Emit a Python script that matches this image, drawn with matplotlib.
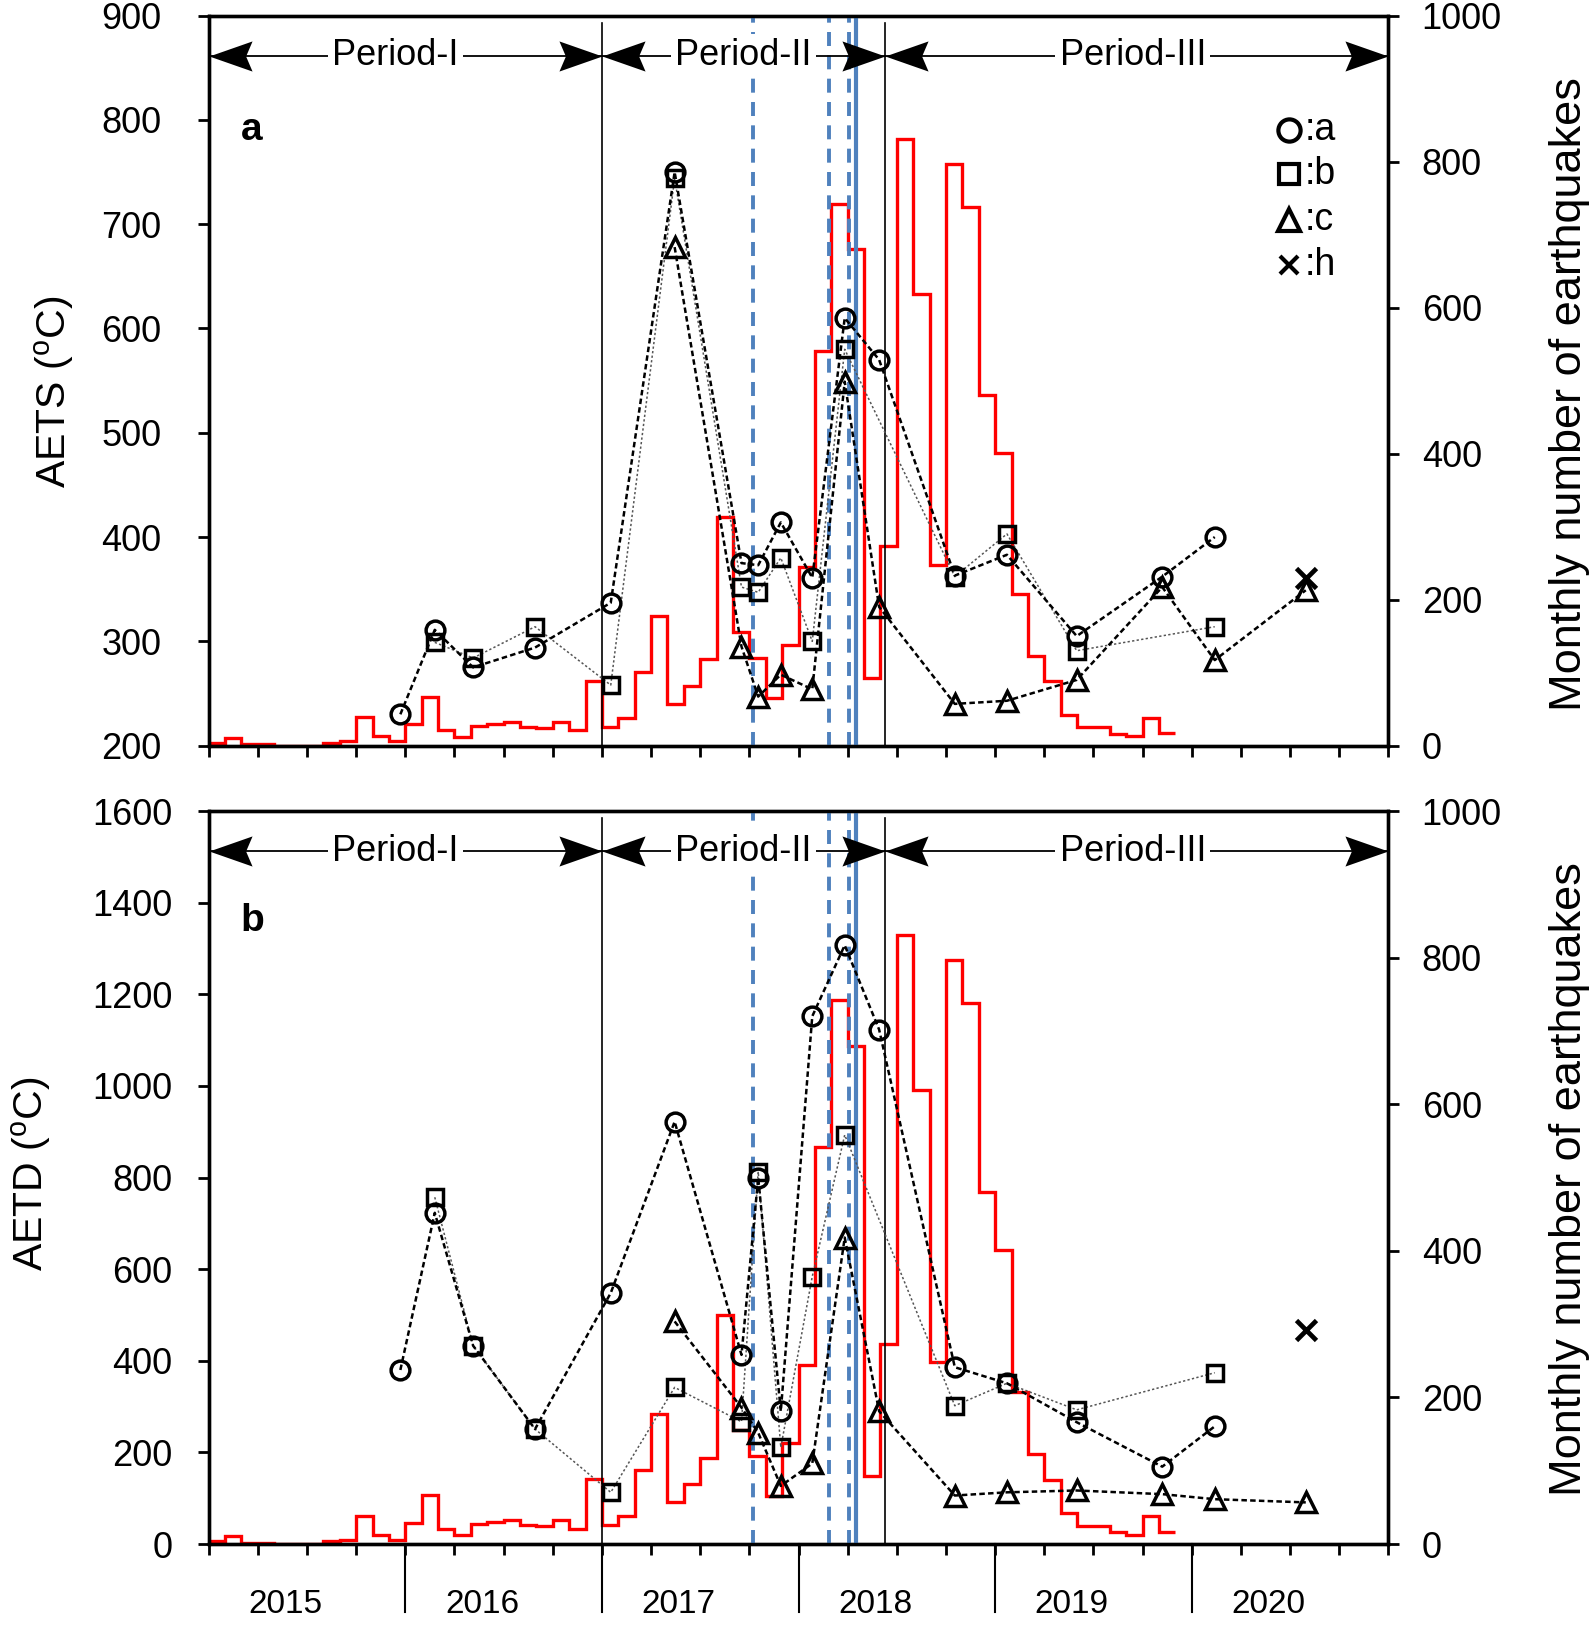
import numpy as np
import matplotlib
matplotlib.use("Agg")
import matplotlib.pyplot as plt
from matplotlib import transforms
from matplotlib.path import Path

plt.rcParams["font.family"] = ["Liberation Sans", "DejaVu Sans"]
plt.rcParams["mathtext.fontset"] = "custom"
plt.rcParams["mathtext.rm"] = "Liberation Sans"

# Sismos mensuales, enero 2015 - noviembre 2019
sismos = [4, 11, 2, 2, 0, 0, 0, 4, 6, 39, 13, 6,
          29, 67, 21, 12, 27, 30, 33, 26, 24, 33, 21, 89,
          26, 38, 101, 177, 57, 82, 118, 313, 155, 120, 65, 138,
          244, 541, 742, 680, 93, 273, 831, 619, 248, 797, 738, 480,
          401, 208, 123, 88, 42, 25, 25, 16, 13, 38, 17]

# Fechas de muestreo (año decimal)
fechas = [2015.975, 2016.15, 2016.345, 2016.66, 2017.045, 2017.37, 2017.71,
          2017.795, 2017.91, 2018.07, 2018.235, 2018.41, 2018.795, 2019.06,
          2019.415, 2019.85, 2020.117, 2020.58]

N = None
# AETS (panel a)
aets_a = [230, 311, 275, 294, 337, 750, 375, 373, 414, 361, 610, 570, 363, 383, 305, 362, 400, N]
aets_b = [N, 299, 284, 314, 258, 744, 352, 347, 380, 300, 580, N, 362, 403, 291, N, 314, N]
aets_c = [N, N, N, N, N, 678, 295, 247, 268, 254, 549, 333, 240, 243, 263, 352, 282, 349]
aets_h = [N] * 17 + [361]

# AETD (panel b)
aetd_a = [380, 723, 433, 251, 548, 922, 413, 800, 290, 1152, 1307, 1123, 386, 351, 266, 169, 257, N]
aetd_b = [N, 757, 433, 251, 113, 342, 267, 813, 211, 584, 893, N, 302, 351, 293, N, 374, N]
aetd_c = [N, N, N, N, N, 486, 298, 243, 127, 176, 669, 290, 106, 113, 117, 109, 98, 91]
aetd_h = [N] * 17 + [468]

periodos = [("Period-I", 2015.0, 2017.0, 2015.95),
            ("Period-II", 2017.0, 2018.44, 2017.72),
            ("Period-III", 2018.44, 2021.0, 2019.70)]
lineas_azules_disc = [2017.77, 2018.155, 2018.255]
linea_azul = 2018.29
anios = [2015, 2016, 2017, 2018, 2019, 2020]

AZUL = "#4F81BD"
FS = 26

# punta de flecha tipo "stealth" (punta en el origen, apuntando a la derecha)
_v = [(0, 0), (-1, 0.35), (-0.85, 0), (-1, -0.35), (0, 0)]
PUNTA_DER = Path(_v, [Path.MOVETO, Path.LINETO, Path.LINETO, Path.LINETO, Path.CLOSEPOLY])
PUNTA_IZQ = Path([(-x, y) for x, y in _v], PUNTA_DER.codes)


def serie(ax, valores, marker, ms, ls, lw, color):
    x = np.array(fechas)
    v = np.array([np.nan if q is None else q for q in valores], dtype=float)
    m = ~np.isnan(v)
    ax.plot(x[m], v[m], linestyle=ls, lw=lw, color=color, marker=marker,
            ms=ms, mfc="none", mec="black", mew=2.5, zorder=5)


def panel(ax, a, b, c, h, ylim, yticks, ylabel, letra, ylab_pos, pad_left, leyenda):
    ax2 = ax.twinx()
    ax.set_zorder(ax2.get_zorder() + 1)
    ax.patch.set_visible(False)

    edges = 2015 + np.arange(len(sismos) + 1) / 12.0
    ax2.stairs(sismos, edges, baseline=None, color="red", lw=2.4)
    ax2.set_ylim(0, 1000)
    ax2.set_yticks(range(0, 1001, 200))
    ax2.tick_params(axis="y", labelsize=FS, length=8, width=2, pad=16, direction="out")
    ax2.set_ylabel("Monthly number of earthquakes", fontsize=32.5)
    ax2.yaxis.set_label_coords(1.136, ylab_pos[1])

    dash = (0, (2.2, 1.3))
    serie(ax, b, "s", 12, (0, (1.5, 1.5)), 1.1, "#555555")
    serie(ax, a, "o", 13.5, dash, 1.8, "black")
    serie(ax, c, "^", 14, dash, 1.8, "black")
    xh = np.array(fechas)
    vh = np.array([np.nan if q is None else q for q in h], dtype=float)
    ax.plot(xh, vh, linestyle="none", marker="x", ms=15, mew=3.4, color="black", zorder=6)

    ax.set_xlim(2015, 2021)
    ax.set_ylim(*ylim)
    ax.set_yticks(yticks)
    ax.set_xticks(np.arange(2015, 2021.01, 0.25))
    ax.tick_params(axis="x", labelbottom=False, length=8, width=2, direction="out")
    ax.tick_params(axis="y", labelsize=FS, length=8, width=2, pad=pad_left, direction="out")
    ax.set_ylabel(ylabel, fontsize=29.5)
    ax.yaxis.set_label_coords(ylab_pos[0], ylab_pos[2])

    for sp in list(ax.spines.values()) + list(ax2.spines.values()):
        sp.set_linewidth(2.4)

    # líneas de período
    for xv in (2017.0, 2018.44):
        ax.axvline(xv, ymin=0, ymax=0.99, color="black", lw=1.2, zorder=3)
    for xv in lineas_azules_disc:
        ax.axvline(xv, color=AZUL, lw=2.8, linestyle=(0, (3.6, 2.4)), zorder=2)
    ax.axvline(linea_azul, color=AZUL, lw=3.0, zorder=2)

    tr = transforms.blended_transform_factory(ax.transData, ax.transAxes)
    yflecha = 0.945
    for nombre, x0, x1, xt in periodos:
        ax.plot([x0, x1], [yflecha, yflecha], transform=tr, color="black", lw=1.3, zorder=7)
        ax.plot([x1], [yflecha], transform=tr, marker=PUNTA_DER, ms=62, color="black",
                mew=0, linestyle="none", zorder=7, clip_on=False)
        ax.plot([x0], [yflecha], transform=tr, marker=PUNTA_IZQ, ms=62, color="black",
                mew=0, linestyle="none", zorder=7, clip_on=False)
        ax.text(xt, yflecha, nombre, transform=tr, ha="center", va="center", fontsize=FS,
                bbox=dict(boxstyle="square,pad=0.12", fc="white", ec="none"), zorder=8)

    ax.text(0.027, letra[1], letra[0], transform=ax.transAxes, fontsize=28,
            fontweight="bold", ha="left", va="center")

    if leyenda:
        items = [("o", 16, ":a"), ("s", 14, ":b"), ("^", 16, ":c"), ("x", 13, ":h")]
        ys = [0.8437, 0.7825, 0.7202, 0.6588]
        for (mk, ms, lab), yy in zip(items, ys):
            ax.plot([0.9155], [yy], transform=ax.transAxes, marker=mk, ms=ms, mfc="none",
                    mec="black", mew=3.0, linestyle="none", clip_on=False)
            ax.text(0.929, yy, lab, transform=ax.transAxes, fontsize=27, ha="left", va="center")
    return ax2


fig = plt.figure(figsize=(15.94, 16.28), dpi=100)
ax_a = fig.add_axes([0.1309, 0.54201, 0.74009, 0.44841])
ax_b = fig.add_axes([0.1309, 0.05154, 0.74009, 0.45030])

panel(ax_a, aets_a, aets_b, aets_c, aets_h, (200, 900), range(200, 901, 100),
      r"AETS ($^{\rm o}$C)", ("a", 0.843), (-0.1124, 0.481, 0.485), 26, True)
panel(ax_b, aetd_a, aetd_b, aetd_c, aetd_h, (0, 1600), range(0, 1601, 200),
      r"AETD ($^{\rm o}$C)", ("b", 0.85), (-0.1320, 0.4985, 0.505), 18, False)

# etiquetas de año y separadores bajo el panel b
trb = transforms.blended_transform_factory(ax_b.transData, ax_b.transAxes)
for yr in anios:
    ax_b.text(yr + 0.39, -0.082, str(yr), transform=trb, ha="center", va="center", fontsize=24)
for yr in anios[1:]:
    ax_b.plot([yr, yr], [0, -0.093], transform=trb, color="black", lw=1.5, clip_on=False)

fig.savefig("out.png", dpi=100)
